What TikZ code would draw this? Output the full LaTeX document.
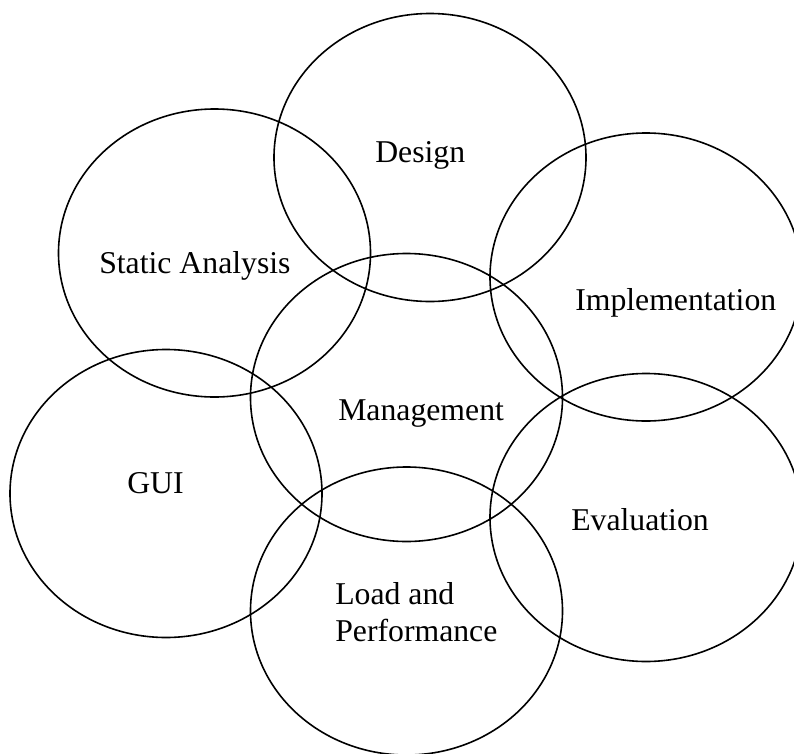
\documentclass[tikz,border=0pt]{standalone}
\usepackage{fontspec}
\setmainfont{Liberation Serif}
\usetikzlibrary{shapes.geometric}

\tikzset{
  blob/.style={draw, ellipse, line width=1.2pt, minimum width=234pt, minimum height=216pt, inner sep=0pt},
  lbl/.style={anchor=base west, inner sep=0pt, align=left, font=\fontsize{23.8}{27.75}\selectfont}
}

\begin{document}
\begin{tikzpicture}[x=0.75pt, y=-0.75pt]

% Fix the frame (pixel coordinates of the reference)
\useasboundingbox (0,0) rectangle (794,754);
\clip (0,0) rectangle (794,754);

% Define the ellipse centres
\coordinate (Cd) at (430,157.5);
\coordinate (Cs) at (214.5,253);
\coordinate (Ci) at (646,277);
\coordinate (Cm) at (406.5,397.5);
\coordinate (Cg) at (166,493.5);
\coordinate (Ce) at (646,517.5);
\coordinate (Cl) at (406.5,611);

% Draw the ellipses
\node[blob] (design) at (Cd) {};
\node[blob] (static) at (Cs) {};
\node[blob] (impl) at (Ci) {};
\node[blob] (mgmt) at (Cm) {};
\node[blob] (gui) at (Cg) {};
\node[blob] (eval) at (Ce) {};
\node[blob] (load) at (Cl) {};

% Add labels (base = last line for the two-line one)
\node[lbl] (designlbl) at (375,162) {Design};
\node[lbl] (staticlbl) at (99,273) {Static Analysis};
\node[lbl] (impllbl) at (575,310) {Implementation};
\node[lbl] (mgmtlbl) at (338,420) {Management};
\node[lbl] (guilbl) at (127,493) {GUI};
\node[lbl] (evallbl) at (571,530) {Evaluation};
\node[lbl] (loadlbl) at (335,641) {Load and\\Performance};

\end{tikzpicture}
\end{document}
